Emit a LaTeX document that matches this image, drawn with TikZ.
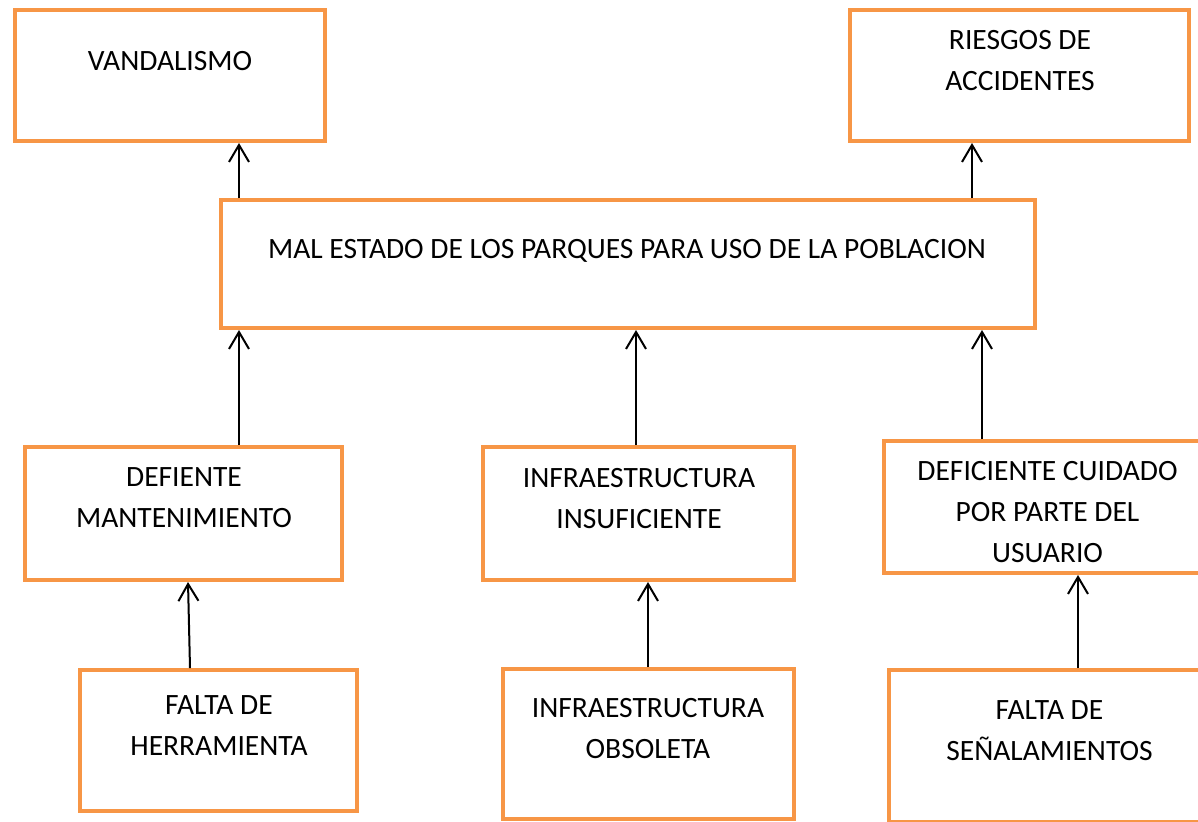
\documentclass[tikz,border=0pt]{standalone}
\usepackage{fontspec}
\setmainfont{Carlito}
\usetikzlibrary{arrows.meta}
\definecolor{boxorange}{RGB}{247,150,70}
\tikzset{
  box/.style={draw=boxorange, line width=2pt, rectangle, inner sep=0pt},
  lbl/.style={anchor=base, align=center, inner sep=0pt, font=\fontsize{14.75}{20.5}\selectfont},
  arr/.style={line width=1pt, -{Straight Barb[length=8.5pt,width=10pt,line width=1pt]}}
}
\begin{document}
\begin{tikzpicture}[x=0.5pt,y=-0.5pt]
\useasboundingbox (0,0) rectangle (1198,821);
\clip (0,0) rectangle (1198,821);
% boxes
\node[box, minimum width=155pt, minimum height=65.5pt] (vand) at (170,75.5) {};
\node[box, minimum width=169.5pt, minimum height=65.5pt] (ries) at (1019.5,75.5) {};
\node[box, minimum width=407pt, minimum height=64pt] (mal) at (628,264) {};
\node[box, minimum width=158.5pt, minimum height=66.5pt] (dm) at (183.5,513.5) {};
\node[box, minimum width=155.5pt, minimum height=66.5pt] (ins) at (638.5,513.5) {};
\node[box, minimum width=165.5pt, minimum height=66pt] (cui) at (1049.5,507) {};
\node[box, minimum width=138.5pt, minimum height=70.5pt] (herr) at (218.5,740.5) {};
\node[box, minimum width=145.5pt, minimum height=75pt] (obs) at (648.5,744) {};
\node[box, minimum width=160.5pt, minimum height=76pt] (sen) at (1049.5,746) {};
% texts (anchor=base is the baseline of the last line)
\node[lbl] (tvand) at (170,70) {VANDALISMO};
\node[lbl] (tries) at (1020,90) {RIESGOS DE\\ACCIDENTES};
\node[lbl] (tmal) at (627,258) {MAL ESTADO DE LOS PARQUES PARA USO DE LA POBLACION};
\node[lbl] (tdm) at (184,527) {DEFIENTE\\MANTENIMIENTO};
\node[lbl] (tins) at (639,528) {INFRAESTRUCTURA\\INSUFICIENTE};
\node[lbl] (tcui) at (1047.5,562) {DEFICIENTE CUIDADO\\POR PARTE DEL\\USUARIO};
\node[lbl] (therr) at (219,755) {FALTA DE\\HERRAMIENTA};
\node[lbl] (tobs) at (648,758) {INFRAESTRUCTURA\\OBSOLETA};
\node[lbl] (tsen) at (1049.5,760) {FALTA DE\\SEÑALAMIENTOS};
% connectors
\draw[arr] (239,0 |- mal.north) -- (239,0 |- vand.south);
\draw[arr] (972,0 |- mal.north) -- (972,0 |- ries.south);
\draw[arr] (239,0 |- dm.north) -- (239,0 |- mal.south);
\draw[arr] (636,0 |- ins.north) -- (636,0 |- mal.south);
\draw[arr] (982,0 |- cui.north) -- (982,0 |- mal.south);
\draw[arr] (190,0 |- herr.north) -- (188,0 |- dm.south);
\draw[arr] (648,0 |- obs.north) -- (648,0 |- ins.south);
\draw[arr] (1078,0 |- sen.north) -- (1078,0 |- cui.south);
\end{tikzpicture}
\end{document}
